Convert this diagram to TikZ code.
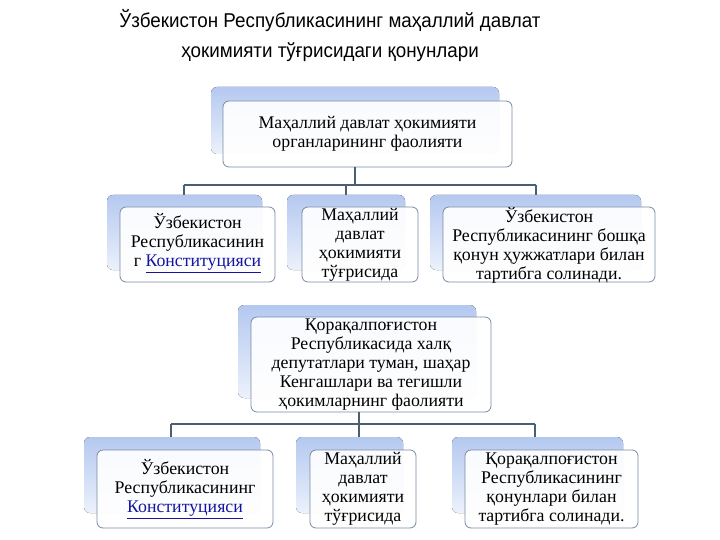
\documentclass[tikz,border=0pt]{standalone}
\usepackage{fontspec}
\setmainfont{Liberation Serif}
\newfontfamily\titlefont{Liberation Sans}
\definecolor{edge}{RGB}{120,140,165}
\definecolor{conn}{RGB}{75,95,115}
\definecolor{shd}{RGB}{180,200,240}
\definecolor{lnk}{RGB}{20,20,160}
\tikzset{
  shadowbox/.style={rounded corners=6pt, top color=shd, bottom color=shd!25, draw=none},
  mainbox/.style={rounded corners=6pt, fill=white, fill opacity=0.92, draw=edge, line width=0.8pt},
  lbl/.style={align=center, font=\fontsize{17.8}{19}\selectfont, inner sep=0pt},
  conline/.style={draw=conn, line width=2pt}
}
\newcommand{\lk}[1]{\textcolor{lnk}{\underline{#1}}}
\begin{document}
\begin{tikzpicture}[x=1pt,y=-1pt]
\useasboundingbox (0,0) rectangle (720,540);
\fill[white] (0,0) rectangle (720,540);
% title
\node[font=\titlefont\fontsize{20}{30}\selectfont, align=center, xscale=0.94] (title) at (330,36) {Ўзбекистон Республикасининг маҳаллий давлат\\ҳокимияти тўғрисидаги қонунлари};
% connectors level 1
\coordinate (j1) at (355,185);
\coordinate (l1) at (184,185);
\coordinate (m1) at (346,185);
\coordinate (r1) at (536,185);
% boxes level 1
\fill[shadowbox] (211,87) rectangle (499,154);
\draw[mainbox] (223,101) rectangle (512,167);
\node[lbl] (top) at (367.5,134) {Маҳаллий давлат ҳокимияти\\органларининг фаолияти};
\draw[conline] (355,167) -- (j1);
\draw[conline] (l1) -- (r1);
\draw[conline] (l1) -- (184,195);
\draw[conline] (m1) -- (346,195);
\draw[conline] (r1) -- (536,195);
\fill[shadowbox] (107,195) rectangle (262,270);
\draw[mainbox] (120,207) rectangle (275,282);
\node[lbl] (a1) at (197.5,243) {Ўзбекистон\\Республикасинин\\г \lk{Конституцияси}};
\fill[shadowbox] (287,195) rectangle (405,270);
\draw[mainbox] (302,207) rectangle (418,282);
\node[lbl] (b1) at (360,245) {Маҳаллий\\давлат\\ҳокимияти\\тўғрисида};
\fill[shadowbox] (430,195) rectangle (641,270);
\draw[mainbox] (443,207) rectangle (655,282);
\node[lbl] (c1) at (549,245) {Ўзбекистон\\Республикасининг бошқа\\қонун ҳужжатлари билан\\тартибга солинади.};
% level 2
\fill[shadowbox] (238,305) rectangle (476,398);
\draw[mainbox] (251,317) rectangle (491,412);
\node[lbl] (mid) at (371,365) {Қорақалпоғистон\\Республикасида халқ\\депутатлари туман, шаҳар\\Кенгашлари ва тегишли\\ҳокимларнинг фаолияти};
\coordinate (l2) at (171,424);
\coordinate (m2) at (359,424);
\coordinate (r2) at (535,424);
\draw[conline] (359,412) -- (m2);
\draw[conline] (l2) -- (r2);
\draw[conline] (l2) -- (171,437);
\draw[conline] (m2) -- (359,437);
\draw[conline] (r2) -- (535,437);
\fill[shadowbox] (84,437) rectangle (260,513);
\draw[mainbox] (97,450) rectangle (273,528);
\node[lbl] (a2) at (185,489) {Ўзбекистон\\Республикасининг\\\lk{Конституцияси}};
\fill[shadowbox] (296,437) rectangle (403,513);
\draw[mainbox] (310,450) rectangle (416,528);
\node[lbl] (b2) at (363,489) {Маҳаллий\\давлат\\ҳокимияти\\тўғрисида};
\fill[shadowbox] (452,437) rectangle (623,513);
\draw[mainbox] (465,450) rectangle (638,528);
\node[lbl] (c2) at (551.5,489) {Қорақалпоғистон\\Республикасининг\\қонунлари билан\\тартибга солинади.};
\end{tikzpicture}
\end{document}
